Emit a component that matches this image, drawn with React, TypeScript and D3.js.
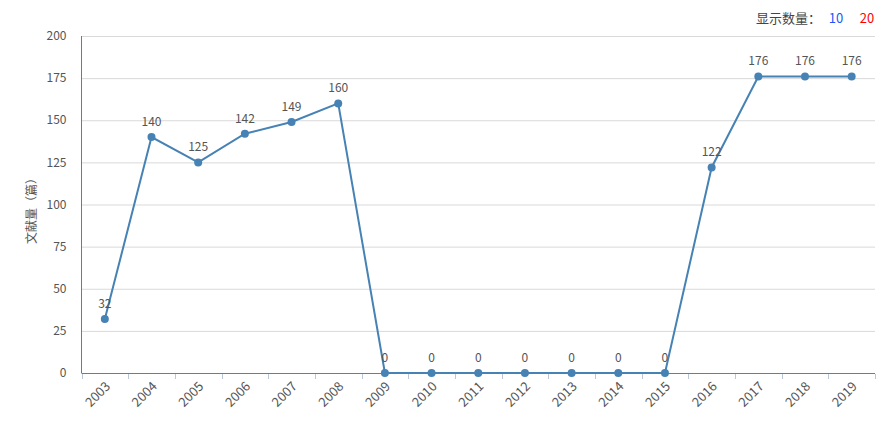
import React from "react";
import * as d3 from "d3";

const years = ["2003","2004","2005","2006","2007","2008","2009","2010","2011","2012","2013","2014","2015","2016","2017","2018","2019"];
const counts = [32,140,125,142,149,160,0,0,0,0,0,0,0,122,176,176,176];
const yTicks = [0,25,50,75,100,125,150,175,200];

const W = 886, H = 440;
const left = 81.5, right = 875, top = 36, bottom = 373;

export default function App() {
  const x = d3.scaleBand<string>().domain(years).range([left, right]);
  const y = d3.scaleLinear().domain([0, 200]).range([bottom, top]);
  const cx = (d: string) => (x(d) as number) + x.bandwidth() / 2;
  const line = d3.line<number>().x((_, i) => cx(years[i])).y((d) => y(d));
  const font = "'Microsoft YaHei', 'Noto Sans CJK SC', 'Open Sans', sans-serif";
  return (
    <svg width={W} height={H} style={{ position: "absolute", left: 0, top: 0, fontFamily: font }}>
      <rect width={W} height={H} fill="#fff" />
      {yTicks.map((t) => (
        <g key={t}>
          {t > 0 && <line x1={left} x2={right} y1={y(t) + 0.5} y2={y(t) + 0.5} stroke="#d9d9d9" />}
          <text x={left - 15} y={y(t)} dy="0.35em" textAnchor="end" fontSize={12} fill="#555">{t}</text>
        </g>
      ))}
      <line x1={left} x2={left} y1={top} y2={bottom} stroke="#3a8ac5" />
      <line x1={left} x2={right} y1={bottom + 0.5} y2={bottom + 0.5} stroke="#3a8ac5" />
      {[...years.map((d) => x(d) as number), right].map((v, i) => (
        <line key={i} x1={Math.round(v) + 0.5} x2={Math.round(v) + 0.5} y1={bottom + 1} y2={bottom + 6} stroke="#b8c8d8" />
      ))}
      {years.map((d) => (
        <text key={d} transform={`translate(${cx(d) + 3},${bottom + 11}) rotate(-45)`} textAnchor="end" dy="0.35em" fontSize={13} fill="#555">{d}</text>
      ))}
      <text transform={`translate(36,208) rotate(-90)`} textAnchor="middle" fontSize={12} fill="#555">文献量（篇）</text>
      <path d={line(counts) || ""} fill="none" stroke="#4682b4" strokeWidth={2} />
      {counts.map((v, i) => (
        <g key={i}>
          <circle cx={cx(years[i])} cy={y(v)} r={4} fill="#4682b4" />
          <text x={cx(years[i])} y={y(v) - 11} textAnchor="middle" fontSize={12} fill="#555">{v}</text>
        </g>
      ))}
      <text x={756} y={23} fontSize={13} fill="#444">显示数量：</text>
      <text x={836} y={23} textAnchor="middle" fontSize={13} fill="#1a56ff">10</text>
      <text x={867} y={23} textAnchor="middle" fontSize={13} fill="#ff0000">20</text>
    </svg>
  );
}
